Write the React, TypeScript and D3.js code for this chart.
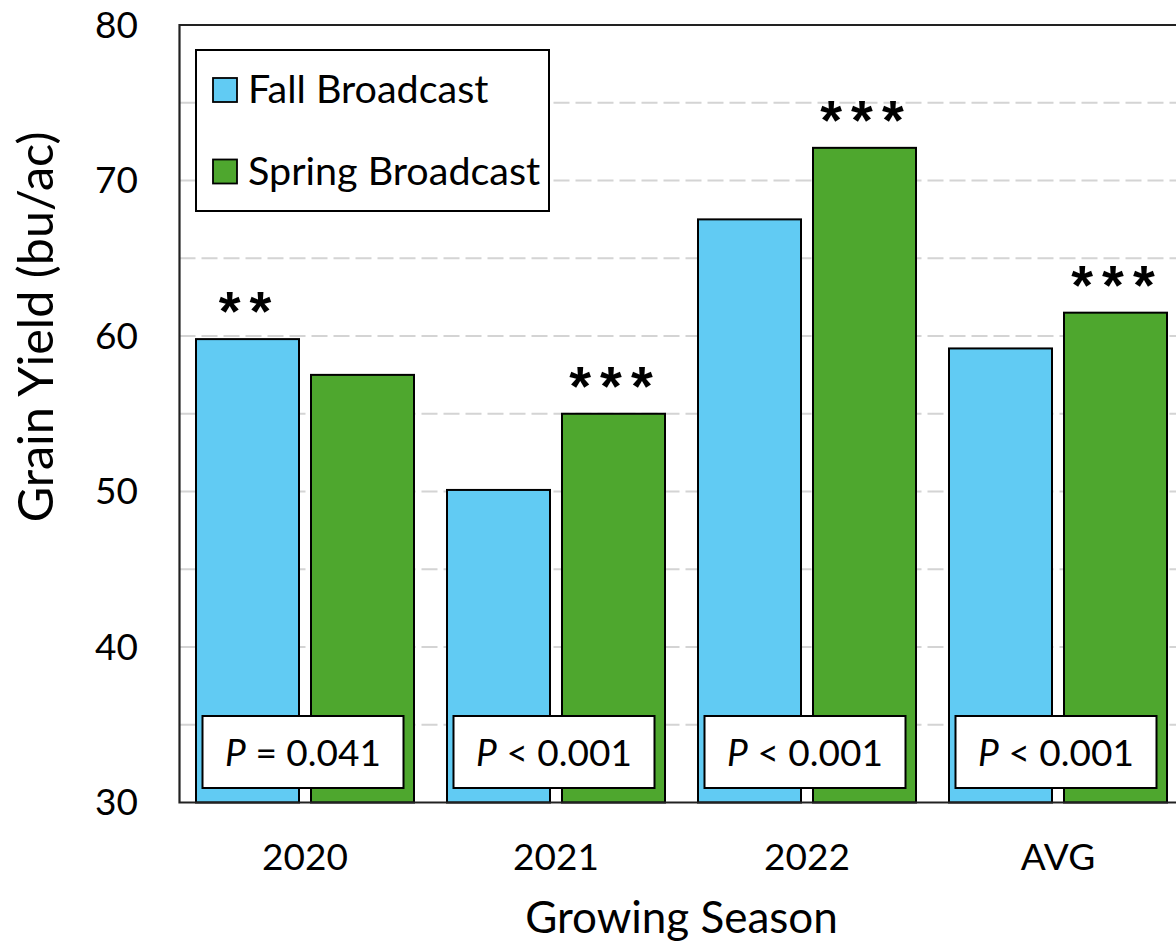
import React from "react";
import * as d3 from "d3";

const categories = ["2020", "2021", "2022", "AVG"];
const seriesNames = ["Fall Broadcast", "Spring Broadcast"];
const fallValues = [59.8, 50.1, 67.5, 59.2];
const springValues = [57.5, 55.0, 72.1, 61.5];
const pLabels = ["= 0.041", "< 0.001", "< 0.001", "< 0.001"];
const starLabels = ["**", "***", "***", "***"];
const starSeries = [0, 1, 1, 1];
const yTicks = [30, 40, 50, 60, 70, 80];
const gridValues = [35, 40, 45, 50, 55, 60, 65, 70, 75];
const colors = ["#61CBF3", "#4EA72E"];

const W = 1176;
const H = 943;
const FONT = "Lato, 'Open Sans', sans-serif";

export default function App() {
  const left = 179.5;
  const top = 25;
  const bottom = 802.5;
  const right = left + 4 * 251;

  const y = d3.scaleLinear().domain([30, 80]).range([bottom, top]);
  const x0 = d3.scaleBand().domain(categories).range([left, right]).paddingInner(0).paddingOuter(0);
  const x1 = d3
    .scaleBand()
    .domain(seriesNames)
    .range([0, x0.bandwidth()])
    .paddingInner(10 / 115)
    .paddingOuter(15.5 / 115);

  const data = categories.map((c, i) => ({ cat: c, vals: [fallValues[i], springValues[i]] }));

  return (
    <svg width={W} height={H} style={{ position: "absolute", left: 0, top: 0, background: "#fff" }} fontFamily={FONT}>
      <rect x={0} y={0} width={W} height={H} fill="#fff" />
      {gridValues.map((g) => (
        <line
          key={g}
          x1={left}
          x2={right}
          y1={y(g)}
          y2={y(g)}
          stroke="#D4D4D4"
          strokeWidth={2}
          strokeDasharray="16 6"
        />
      ))}
      {data.map((d) =>
        d.vals.map((v, si) => (
          <rect
            key={d.cat + si}
            x={(x0(d.cat) as number) + (x1(seriesNames[si]) as number) + 1}
            y={y(v)}
            width={x1.bandwidth() - 2}
            height={y(30) - y(v)}
            fill={colors[si]}
            stroke="#000"
            strokeWidth={2}
          />
        ))
      )}
      <path
        d={`M${right},${top}H${left}V${bottom}H${right}`}
        fill="none"
        stroke="#222"
        strokeWidth={2.2}
      />
      {data.map((d, i) => {
        const si = starSeries[i];
        const cx = (x0(d.cat) as number) + (x1(seriesNames[si]) as number) + x1.bandwidth() / 2;
        return (
          <text
            key={"s" + d.cat}
            x={cx + 2}
            y={y(d.vals[si]) - 9}
            textAnchor="middle"
            fontFamily="'Liberation Sans', Arial, sans-serif"
            fontSize={56}
            fontWeight={700}
            letterSpacing={9}
            fill="#000"
          >
            {starLabels[i]}
          </text>
        );
      })}
      {data.map((d, i) => {
        const cx = (x0(d.cat) as number) + x0.bandwidth() / 2 - 2;
        return (
          <g key={"p" + d.cat}>
            <rect x={cx - 100.5} y={716} width={201} height={72} fill="#fff" stroke="#000" strokeWidth={2} />
            <text x={cx} y={766} textAnchor="middle" fontSize={37} fill="#000">
              <tspan fontStyle="italic">P</tspan>
              {" " + pLabels[i]}
            </text>
          </g>
        );
      })}
      {yTicks.map((t) => (
        <text key={t} x={138} y={y(t)} dy="0.35em" textAnchor="end" fontSize={37} fill="#000">
          {t}
        </text>
      ))}
      {categories.map((c) => (
        <text key={c} x={(x0(c) as number) + x0.bandwidth() / 2} y={870} textAnchor="middle" fontSize={37} fill="#000">
          {c}
        </text>
      ))}
      <text x={(left + right) / 2} y={933} textAnchor="middle" fontSize={44} fill="#000">
        Growing Season
      </text>
      <text transform={`translate(53,327) rotate(-90)`} textAnchor="middle" fontSize={48.5} fill="#000">
        Grain Yield (bu/ac)
      </text>
      <g>
        <rect x={196} y={50} width={353} height={161} fill="#fff" stroke="#000" strokeWidth={2} />
        {seriesNames.map((s, i) => (
          <g key={s}>
            <rect x={213} y={78 + i * 81.5} width={24} height={24} fill={colors[i]} stroke="#000" strokeWidth={1.8} />
            <text x={248} y={103 + i * 81.5} fontSize={39.5} fill="#000">
              {s}
            </text>
          </g>
        ))}
      </g>
    </svg>
  );
}
